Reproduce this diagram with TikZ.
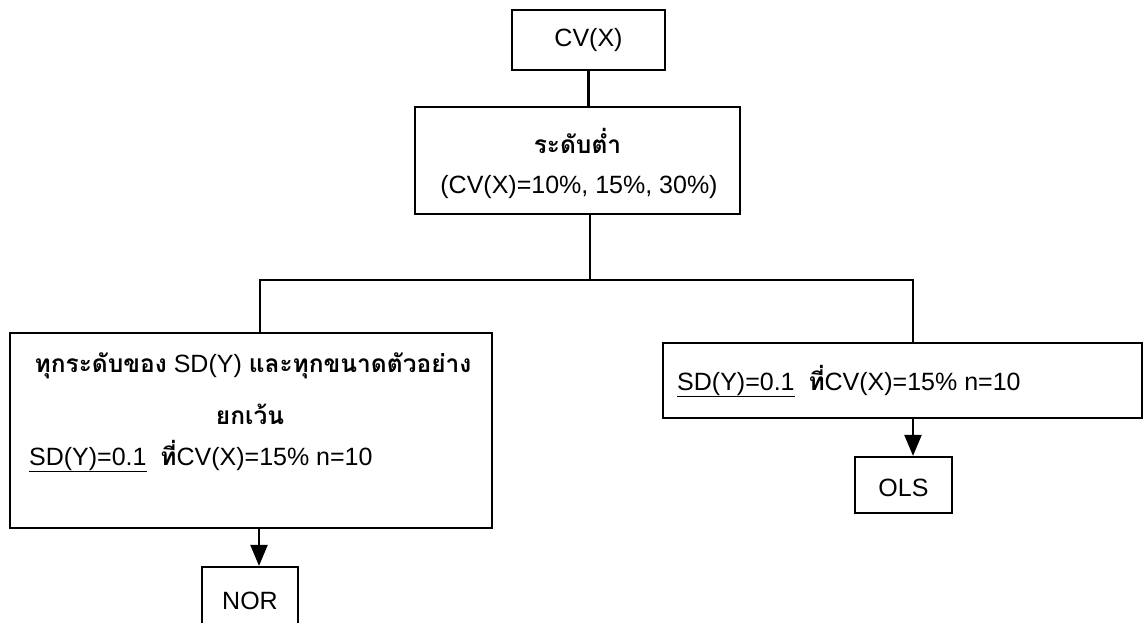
\documentclass[tikz,border=0pt]{standalone}
\usepackage{fontspec}
\setmainfont{Liberation Sans}
\newfontfamily\thaifont[Script=Thai]{Loma}
\usetikzlibrary{arrows.meta}
\newcommand{\thx}[1]{{\thaifont\bfseries\fontsize{24.5}{30}\selectfont #1}}

\tikzset{
  box/.style={draw=black, line width=2.2pt, fill=white, inner sep=0pt},
  lbl/.style={inner sep=0pt, font=\fontsize{25}{30}\selectfont},
  link/.style={draw=black, line width=2.2pt},
  flow/.style={link, -{Triangle[length=21pt,width=17pt]}}
}

\begin{document}
\begin{tikzpicture}[x=1pt,y=-1pt]
  \useasboundingbox (0,0) rectangle (1146,623);
  \clip (0,0) rectangle (1146,623);

  % boxes
  \node[box, minimum width=153pt, minimum height=60pt] (cv) at (588.5,40) {};
  \node[box, minimum width=325pt, minimum height=107pt] (low) at (577.5,160.5) {};
  \node[box, minimum width=482pt, minimum height=195pt] (left) at (251,430.5) {};
  \node[box, minimum width=479pt, minimum height=75pt] (right) at (902.5,380.5) {};
  \node[box, minimum width=96pt, minimum height=73pt] (nor) at (250,603.5) {};
  \node[box, minimum width=97pt, minimum height=56pt] (ols) at (903.5,485) {};

  % labels
  \node[lbl] (cvt) at (cv) {CV(X)};
  \node[lbl] (lowa) at (577.5,141) {\thx{ระดับต่ำ}};
  \node[lbl] (lowb) at (579,187) {(CV(X)=10\%, 15\%, 30\%)};
  \node[lbl] (lefta) at (253,366) {\thx{ทุกระดับของ} SD(Y) \thx{และทุกขนาดตัวอย่าง}};
  \node[lbl] (leftb) at (250,414) {\thx{ยกเว้น}};
  \node[lbl, anchor=west] (leftc) at (29,456) {\underline{SD(Y)=0.1}\ \ \thx{ที่}CV(X)=15\% n=10};
  \node[lbl, anchor=west] (righta) at (677,381) {\underline{SD(Y)=0.1}\ \ \thx{ที่}CV(X)=15\% n=10};
  \node[lbl] (nort) at (250,601) {NOR};
  \node[lbl] (olst) at (903.5,488) {OLS};

  % tree connectors
  \coordinate (split) at (590,280);
  \draw[link] (cv.south) -- (cv.south |- low.north);
  \draw[link] (split |- low.south) -- (split);
  \draw[link] (260,333 |- left.north) -- (260,280) -- (913,280) -- (913,280 |- right.north);
  \draw[flow] (259,528 |- left.south) -- (259,567 |- nor.north);
  \draw[flow] (913,418 |- right.south) -- (913,457 |- ols.north);
\end{tikzpicture}
\end{document}
